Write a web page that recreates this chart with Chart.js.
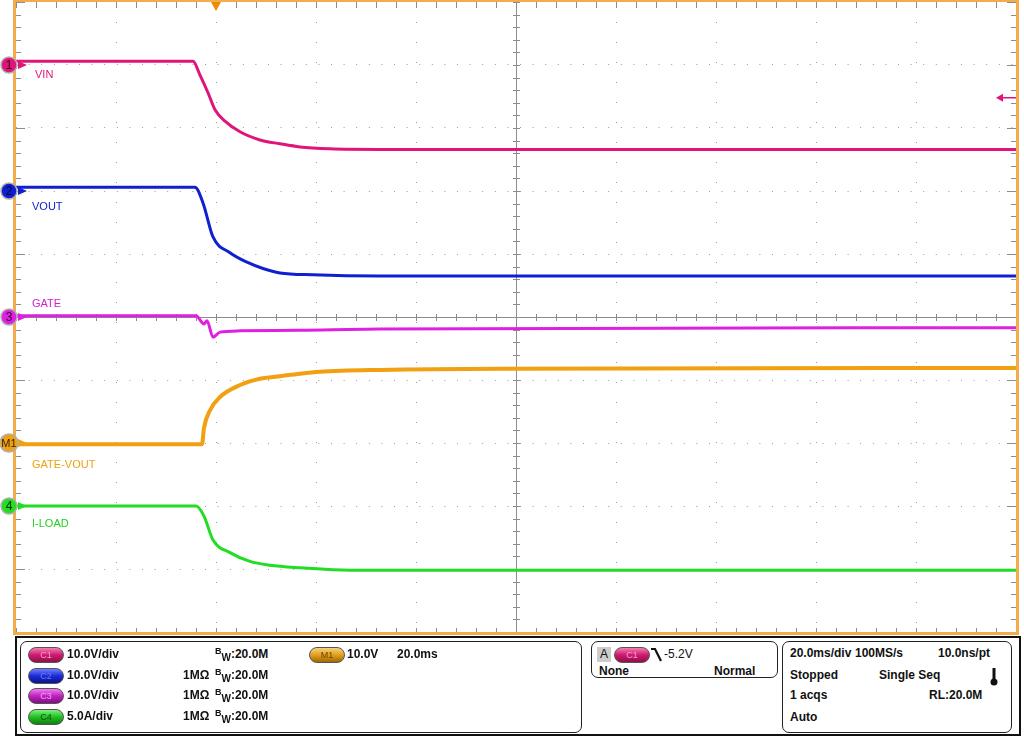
<!DOCTYPE html>
<html>
<head>
<meta charset="utf-8">
<script src="https://cdn.jsdelivr.net/npm/chart.js@4.4.0/dist/chart.umd.min.js"></script>
<style>
  body { margin: 0; background: #fff; width: 1024px; height: 736px; overflow: hidden; font-family: "Liberation Sans", Arial, sans-serif; }
  #wrap { position: relative; width: 1024px; height: 736px; }
  #scope { position: absolute; left: 0; top: 0; }
  .lbl { position: absolute; font-size: 11px; line-height: 12px; }
  .frame { position: absolute; left: 15px; top: 636px; width: 1002px; height: 96px; border: 2px solid #111; border-bottom-width: 2px; }
  .box { position: absolute; border: 1.5px solid #222; border-radius: 7px; background: #fff; }
  .t { position: absolute; font-size: 12px; font-weight: bold; color: #111; line-height: 14px; white-space: nowrap; }
  .pill { position: absolute; width: 34px; height: 14px; border-radius: 8px; border: 1px solid #555; font-size: 9px; line-height: 14px; text-align: center; }
  .sup { font-size: 9px; position: relative; top: -4px; }
  .sub { font-size: 10px; position: relative; top: 3px; }
</style>
</head>
<body>
<div id="wrap">
  <canvas id="scope" width="1024" height="636"></canvas>

  <div class="lbl" style="left:35px;top:68px;color:#e0157a">VIN</div>
  <div class="lbl" style="left:32px;top:200px;color:#1020d0">VOUT</div>
  <div class="lbl" style="left:32px;top:297px;color:#d020d0">GATE</div>
  <div class="lbl" style="left:32px;top:458px;color:#f0a010">GATE-VOUT</div>
  <div class="lbl" style="left:32px;top:517px;color:#20d020">I-LOAD</div>

  <div class="frame"></div>
  <div class="box" style="left:20px;top:641px;width:560px;height:90px"></div>
  <div class="box" style="left:591px;top:641px;width:185px;height:35px"></div>
  <div class="box" style="left:782px;top:641px;width:228px;height:90px"></div>

  <!-- channel setup -->
  <div class="pill" style="left:28px;top:647px;background:linear-gradient(#f080b0,#d01870 50%,#901048);color:#f7a0c8">C1</div>
  <div class="t" style="left:67px;top:647px">10.0V/div</div>
  <div class="t" style="left:215px;top:647px"><span class="sup">B</span><span class="sub">W</span>:20.0M</div>

  <div class="pill" style="left:28px;top:668px;background:linear-gradient(#7080ff,#1a2ad8 50%,#0a1488);color:#6d7cf0">C2</div>
  <div class="t" style="left:67px;top:668px">10.0V/div</div>
  <div class="t" style="left:183px;top:668px">1MΩ</div>
  <div class="t" style="left:215px;top:668px"><span class="sup">B</span><span class="sub">W</span>:20.0M</div>

  <div class="pill" style="left:28px;top:688px;background:linear-gradient(#f080f0,#c020c0 50%,#801080);color:#f0a0f0">C3</div>
  <div class="t" style="left:67px;top:688px">10.0V/div</div>
  <div class="t" style="left:183px;top:688px">1MΩ</div>
  <div class="t" style="left:215px;top:688px"><span class="sup">B</span><span class="sub">W</span>:20.0M</div>

  <div class="pill" style="left:28px;top:709px;background:linear-gradient(#80f080,#20c020 50%,#108010);color:#105010">C4</div>
  <div class="t" style="left:67px;top:709px">5.0A/div</div>
  <div class="t" style="left:183px;top:709px">1MΩ</div>
  <div class="t" style="left:215px;top:709px"><span class="sup">B</span><span class="sub">W</span>:20.0M</div>

  <div class="pill" style="left:309px;top:647px;background:linear-gradient(#f8d080,#e0a020 50%,#a06800);color:#704000">M1</div>
  <div class="t" style="left:347px;top:647px">10.0V</div>
  <div class="t" style="left:397px;top:647px">20.0ms</div>

  <!-- trigger -->
  <div class="t" style="left:597px;top:647px;width:14px;height:15px;background:#ccc;font-weight:normal;text-align:center">A</div>
  <div class="pill" style="left:614px;top:647px;background:linear-gradient(#f080b0,#d01870 50%,#901048);color:#f7a0c8">C1</div>
  <svg style="position:absolute;left:651px;top:647px" width="12" height="16"><path d="M0 2 L4 2 L10 14" stroke="#111" stroke-width="2.2" fill="none"/></svg>
  <div class="t" style="left:664px;top:647px;font-weight:normal">-5.2V</div>
  <div class="t" style="left:599px;top:664px">None</div>
  <div class="t" style="left:714px;top:664px">Normal</div>

  <!-- acquisition -->
  <div class="t" style="left:790px;top:646px">20.0ms/div</div>
  <div class="t" style="left:855px;top:646px">100MS/s</div>
  <div class="t" style="left:938px;top:646px">10.0ns/pt</div>
  <div class="t" style="left:790px;top:668px">Stopped</div>
  <div class="t" style="left:879px;top:668px">Single Seq</div>
  <svg style="position:absolute;left:989px;top:667px" width="10" height="20"><line x1="5" y1="1" x2="5" y2="14" stroke="#111" stroke-width="3"/><circle cx="5" cy="15" r="3.5" fill="#111"/></svg>
  <div class="t" style="left:790px;top:688px">1 acqs</div>
  <div class="t" style="left:929px;top:688px">RL:20.0M</div>
  <div class="t" style="left:790px;top:710px">Auto</div>
</div>

<script>
// time in ms (trigger at 0), values in volts / amps
const vinTime = [-40, -4.6, -3.2, -1.6, -0.2, 1.8, 4.8, 8.8, 12.8, 16.8, 22.8, 32.8, 160];
const vinVolts = [0.6, 0.6, -1.6, -4.4, -7.1, -8.9, -10.6, -11.9, -12.5, -13.0, -13.3, -13.4, -13.4];

const voutTime = [-40, -4.2, -2.6, -0.6, 2.8, 6.2, 9.4, 12.8, 19.4, 32.8, 160];
const voutVolts = [0.6, 0.6, -1.9, -7.3, -9.8, -11.3, -12.3, -13.0, -13.3, -13.5, -13.5];

const gateTime = [-40, -4.0, -2.4, -1.8, -0.6, 0.8, 4.8, 16.8, 32.8, 160];
const gateVolts = [0.2, 0.2, -1.1, -0.6, -3.2, -2.4, -2.2, -2.1, -1.9, -1.7];

const m1Time = [-40, -2.8, -2.4, -1.2, 0.8, 4.8, 8.8, 12.8, 16.8, 20.8, 32.8, 56.8, 160];
const m1Volts = [-0.2, -0.2, 2.4, 5.2, 7.3, 9.2, 10.2, 10.6, 11.0, 11.3, 11.6, 11.8, 11.9];

const iloadTime = [-40, -4.0, -2.4, -0.6, 2.8, 6.8, 10.8, 16.8, 26.8, 160];
const iloadAmps = [0, 0, -0.8, -2.7, -3.7, -4.4, -4.7, -4.9, -5.1, -5.1];

const trigLevel = -5.2; // V on C1

// channel setup: ground position (div) and scale (units/div)
const ch1 = { pos: 4, scale: 10, color: "#e0157a", tag: "1" };
const ch2 = { pos: 2, scale: 10, color: "#1020d0", tag: "2" };
const ch3 = { pos: 0, scale: 10, color: "#e020e0", tag: "3" };
const mth = { pos: -2, scale: 10, color: "#f0a010", tag: "M1" };
const ch4 = { pos: -3, scale: 5, color: "#22dd22", tag: "4" };

const toDiv = (times, vals, ch) => times.map((t, i) => ({ x: t, y: ch.pos + vals[i] / ch.scale }));

const trace = (label, data, ch, w) => ({
  label: label,
  data: data,
  borderColor: ch.color,
  backgroundColor: ch.color,
  borderWidth: w,
  pointRadius: 0,
  cubicInterpolationMode: "monotone",
});

const ORANGE = "#f2ac4e";

const scopeDecor = {
  id: "scopeDecor",
  beforeDatasetsDraw(chart) {
    const { ctx, chartArea: a, scales: { x, y } } = chart;
    const cx = x.getPixelForValue(60), cy = y.getPixelForValue(0);
    ctx.save();
    ctx.strokeStyle = "#8c8c8c";
    ctx.lineWidth = 1;
    ctx.beginPath();
    ctx.moveTo(a.left, cy + 0.5); ctx.lineTo(a.right, cy + 0.5);
    ctx.moveTo(cx + 0.5, a.top); ctx.lineTo(cx + 0.5, a.bottom);
    for (let t = -40; t <= 160; t += 4) {
      const px = Math.round(x.getPixelForValue(t)) + 0.5;
      ctx.moveTo(px, cy - 3); ctx.lineTo(px, cy + 4);
      ctx.moveTo(px, a.top); ctx.lineTo(px, a.top + 6);
      ctx.moveTo(px, a.bottom - 4); ctx.lineTo(px, a.bottom);
    }
    for (let d = -5; d <= 5.001; d += 0.2) {
      const py = Math.round(y.getPixelForValue(d)) + 0.5;
      const major = Math.abs(d - Math.round(d)) < 0.01;
      ctx.moveTo(cx - 3, py); ctx.lineTo(cx + 4, py);
      ctx.moveTo(a.left, py); ctx.lineTo(a.left + (major ? 9 : 5), py);
      ctx.moveTo(a.right, py); ctx.lineTo(a.right - (major ? 9 : 5), py);
    }
    ctx.stroke();
    ctx.restore();
  },
  afterDatasetsDraw(chart) {
    const { ctx, chartArea: a, scales: { x, y } } = chart;
    ctx.save();
    // orange frame
    ctx.fillStyle = ORANGE;
    ctx.fillRect(a.left - 3, 0, 3, a.bottom + 3);
    ctx.fillRect(a.left - 3, 0, a.right - a.left + 6, a.top);
    ctx.fillRect(a.right, 0, 3, a.bottom + 3);
    ctx.fillRect(a.left - 3, a.bottom, a.right - a.left + 6, 3);

    // trigger position marker
    const tx = x.getPixelForValue(0);
    ctx.fillStyle = "#f08c00";
    ctx.beginPath();
    ctx.moveTo(tx - 5, a.top); ctx.lineTo(tx + 5, a.top); ctx.lineTo(tx, a.top + 9);
    ctx.closePath(); ctx.fill();

    // trigger level arrow (C1)
    const ty = y.getPixelForValue(ch1.pos + trigLevel / ch1.scale);
    ctx.strokeStyle = ch1.color; ctx.fillStyle = ch1.color; ctx.lineWidth = 1.5;
    ctx.beginPath(); ctx.moveTo(a.right, ty); ctx.lineTo(a.right - 16, ty); ctx.stroke();
    ctx.beginPath();
    ctx.moveTo(a.right - 20, ty); ctx.lineTo(a.right - 13, ty - 4); ctx.lineTo(a.right - 13, ty + 4);
    ctx.closePath(); ctx.fill();

    // channel ground markers
    [ch1, ch2, ch3, mth, ch4].forEach((ch) => {
      const py = y.getPixelForValue(ch.pos);
      const r = ch.tag === "M1" ? 9 : 8;
      ctx.fillStyle = ch.color;
      ctx.beginPath();
      ctx.moveTo(a.left + 2, py - 4); ctx.lineTo(a.left + 11, py); ctx.lineTo(a.left + 2, py + 4);
      ctx.closePath(); ctx.fill();
      ctx.beginPath(); ctx.arc(9, py, r, 0, Math.PI * 2);
      ctx.fill();
      ctx.strokeStyle = "#b0b0b0"; ctx.lineWidth = 1.5; ctx.stroke();
      ctx.fillStyle = "rgba(0,0,0,0.8)";
      ctx.font = (ch.tag === "M1" ? "11px" : "12px") + " 'Liberation Sans', Arial, sans-serif";
      ctx.textAlign = "center"; ctx.textBaseline = "middle";
      ctx.fillText(ch.tag, 9, py + 1);
    });
    ctx.restore();
  },
};

const gridLine = (center, step) => ({
  display: true,
  drawTicks: false,
  lineWidth: 1,
  color: (c) => (c.tick && (c.tick.value === center || c.index === 0 || c.index === 10)) ? "rgba(0,0,0,0)" : "#9a9a9a",
});

new Chart(document.getElementById("scope"), {
  type: "line",
  data: {
    datasets: [
      trace("I-LOAD", toDiv(iloadTime, iloadAmps, ch4), ch4, 3),
      trace("GATE-VOUT", toDiv(m1Time, m1Volts, mth), mth, 4),
      trace("GATE", toDiv(gateTime, gateVolts, ch3), ch3, 3),
      trace("VOUT", toDiv(voutTime, voutVolts, ch2), ch2, 3),
      trace("VIN", toDiv(vinTime, vinVolts, ch1), ch1, 3),
    ],
  },
  options: {
    responsive: false,
    animation: false,
    devicePixelRatio: 1,
    layout: { padding: { left: 16, right: 8, top: 2, bottom: 4 } },
    plugins: { legend: { display: false }, tooltip: { enabled: false } },
    scales: {
      x: {
        type: "linear", min: -40, max: 160,
        ticks: { display: false, stepSize: 20 },
        grid: gridLine(60),
        border: { display: false, dash: [1, 19] },
      },
      y: {
        type: "linear", min: -5, max: 5,
        ticks: { display: false, stepSize: 1 },
        grid: gridLine(0),
        border: { display: false, dash: [1, 11.6] },
      },
    },
  },
  plugins: [scopeDecor],
});
</script>
</body>
</html>
